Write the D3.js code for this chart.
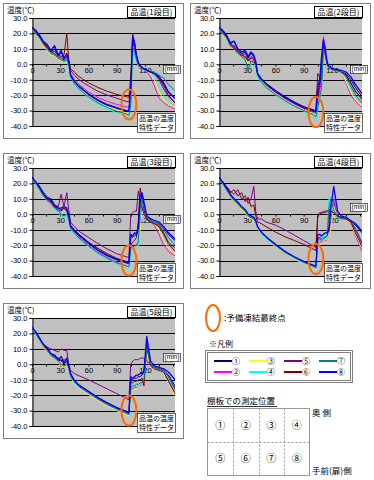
<!DOCTYPE html>
<html>
<head>
<meta charset="utf-8">
<script src="https://cdn.jsdelivr.net/npm/d3@7"></script>
<style>
  body { margin: 0; background: #fff; }
  svg { display: block; }
  text { font-family: 'Liberation Sans', Arial, sans-serif; fill: #000; }
  .jp { font-family: 'Noto Sans CJK JP', sans-serif; }
</style>
</head>
<body>
<svg id="chart" width="374" height="480"></svg>
<script>
// time axis shared by every series (min)
var minutes = [0, 4, 8, 12, 16, 20, 24, 28, 31, 34, 37, 39, 41, 45, 50, 60, 70, 80, 90, 100,
  103, 105, 107, 109, 111, 113, 115, 117, 119, 122, 126, 130, 135, 140, 145, 152];

var seriesLabels = ['①', '②', '③', '④', '⑤', '⑥', '⑦', '⑧'];
var seriesColors = ['#000080', '#ff00ff', '#ffff00', '#00ffff', '#800080', '#800000', '#008080', '#0000ff'];

var yTicks = [30, 20, 10, 0, -10, -20, -30, -40];
var xTicks = [0, 30, 60, 90, 120];
var xMinorTicks = [15, 45, 75, 105, 135, 150];

var tierTitles = ['品温(1段目)', '品温(2段目)', '品温(3段目)', '品温(4段目)', '品温(5段目)'];
// where the orange ring sits (temp at ~103 min) and where the (min) tag sits
var ringTemp = [-26, -31, -30, -29, -30];
var minTagTemp = [-3, -3, -3, 5, 5];

// product temperature, 1st shelf: series ①..⑧
var tier1 = [
  [23, 21, 18, 14, 12, 8, 10, 5, 8, 3, 5, 1, -7, -11, -14, -19, -23, -26, -28, -30, -30.5, -18, 15, 10, 4, 0, -2, -3, -3.5, -4, -5, -6, -8, -13, -18, -22],
  [23, 20, 17, 13, 10, 7, 6, 4, 3, 2, 3, 0, -6, -10, -13, -18, -21.5, -24, -26, -27.5, -28, -20, 16, 12, 5, 0, -2, -3, -3.5, -5, -8, -14, -22, -25, -27, -29],
  [23, 20, 16, 12, 9, 6, 5, 3, 2, 1, 2, -1, -8, -12, -15.5, -20.5, -24.5, -27.5, -29.5, -31.5, -32, -25, 12, 8, 3, -1, -2, -3, -3.5, -4.5, -6, -10, -18, -23, -26, -28],
  [23, 20, 17, 13, 10, 7, 6, 3, 3, 1, 3, -1, -8.5, -13, -16.5, -21.5, -25.5, -29, -31.5, -33, -34, -27, 10, 6, 2, -1, -2, -3, -3.5, -4, -5, -8, -14, -20, -24, -27],
  [23, 21, 18, 14, 11, 8, 7, 5, 4, 3, 5, 2, -4, -7, -10, -14, -17.5, -20, -22, -24, -24.5, -15, 17, 12, 5, 1, -1, -2, -3, -4, -5, -6, -10, -16, -21, -25],
  [23, 21, 18, 14, 11, 9, 8, 6, 5, 6, 20, 3, -3, -5, -8, -12, -15, -17.5, -19.5, -21, -21.5, -8, 20, 14, 6, 1, -1, -2, -3, -4, -5, -6, -9, -14, -20, -25],
  [23, 20, 17, 13, 10, 7, 6, 4, 3, 2, 3, 0, -8, -12.5, -16, -21, -25, -28, -30.5, -32, -33, -26, 11, 8, 3, -1, -2, -3, -3, -3.5, -4.5, -5, -7, -9, -13, -17],
  [24, 22, 19, 15, 13, 9, 12, 6, 9, 4, 7, 2, -7, -11, -14.5, -19.5, -23.5, -26.5, -28.5, -30, -30.5, -15, 18, 14, 6, 1, -1, -2, -3, -4, -5, -6, -8, -12, -18, -22]
];

var tier2 = [
  [23, 21, 18, 13, 15, 9, 7, 8, 4, 7, 5, 1, -6, -10, -13, -18, -22, -25.5, -28.5, -30.5, -31, -22, -15, -5, 15, 8, 0, -2, -3, -3.5, -4, -5, -6, -10, -15, -21],
  [23, 20, 17, 12, 11, 8, 6, 4, 3, 2, 2, -1, -7, -10.5, -14, -18.5, -22.5, -26, -29, -31, -32, -25, -18, -10, 18, 10, 0, -2, -3, -3.5, -4, -6, -12, -20, -24, -28],
  [23, 20, 16, 12, 10, 7, 5, 3, 1, 0, 1, -2, -8, -11, -14.5, -19, -23, -26.5, -29.5, -32, -33, -27, -22, -15, 12, 8, -1, -2, -3, -3.5, -4, -6, -11, -18, -23, -27],
  [23, 20, 17, 12, 10, 7, 5, 2, -3, 1, 1, -2, -8, -12, -15.5, -20, -24, -27.5, -30.5, -33, -35, -30, -24, -18, 10, 6, -1, -2, -3, -3.5, -4, -5, -9, -16, -22, -26],
  [23, 21, 18, 13, 12, 8, 6, 7, 3, 5, 4, 0, -6, -9.5, -13, -17.5, -21.5, -25, -28, -30, -31, -20, -12, 0, 14, 8, 0, -2, -3, -3.5, -4, -5, -7, -12, -18, -22],
  [23, 21, 18, 13, 11, 8, 6, 5, 2, 4, 3, 0, -6, -9.5, -13, -17.5, -21.5, -25, -28, -30, -30, -6, -8, -10, 12, 6, 0, -2, -3, -3.5, -4, -5, -7, -12, -17, -23],
  [23, 20, 17, 12, 10, 7, 5, 3, -4, 2, 1, -1, -7, -11.5, -15, -19.5, -23.5, -27, -30, -32.5, -34, -28, -22, -15, 10, 7, -1, -2, -3, -3.5, -4, -5, -8, -14, -20, -25],
  [24, 22, 19, 14, 15, 10, 8, 9, 5, 8, 6, 2, -6, -9.5, -12.5, -17, -21, -24.5, -27.5, -29.5, -30.5, -15, -10, 5, 16, 10, 1, -1, -2, -3, -3.5, -4, -5, -8, -13, -19]
];

var tier3 = [
  [23, 20, 17, 13, 10, 9, 5, 3, 2, 4, 2, -2, -8, -11, -14, -19, -23.5, -27, -29.5, -31.5, -32, -14, -15, -14, -13, -10, 8, 12, 6, -2, -4, -5, -6, -9, -13, -17],
  [23, 20, 16, 12, 9, 7, 4, 2, 0, -1, 0, -3, -9, -12, -15, -20, -24.5, -28, -31, -33.5, -34.5, -22, -21, -21, -20, -18, -5, 5, 2, -3, -5, -7, -13, -20, -24, -27],
  [23, 20, 16, 12, 9, 7, 4, 2, 0, -1, 0, -3, -9, -12, -15.5, -20.5, -25, -28.5, -31.5, -34, -35, -23, -22, -22, -21, -20, -10, 2, 0, -3, -5, -6, -10, -17, -22, -26],
  [23, 20, 16, 12, 9, 7, 4, 1, -1, -2, -1, -4, -10, -12.5, -16, -21, -25.5, -29, -32, -34.5, -35.5, -24, -23, -22, -22, -20, 0, 8, 3, -2, -4, -5, -8, -14, -20, -24],
  [23, 21, 17, 13, 11, 8, 6, 5, 13, 5, 14, 3, -5, -8, -11, -15, -19, -22.5, -25.5, -27.5, -28, 0, 1, 2, 2, 15, 8, 4, 0, -3, -5, -6, -7, -12, -18, -22],
  [23, 21, 17, 13, 10, 8, 5, 4, 3, 4, 3, 0, -7, -10, -13, -18, -22, -25.5, -28.5, -30.5, -31, -20, -18, -17, -15, -5, 17, 10, 3, -3, -5, -6, -8, -13, -19, -24],
  [23, 20, 16, 12, 9, 7, 4, 2, 0, -1, 0, -3, -9, -12, -15.5, -20.5, -25, -28.5, -31.5, -33.5, -34, -22, -21, -20, -20, -18, 5, 10, 5, -2, -4, -5, -6, -10, -15, -20],
  [24, 21, 18, 14, 11, 10, 6, 4, 4, 5, 4, -1, -8, -10.5, -13.5, -18.5, -23, -26.5, -29, -31, -31.5, -13, -14, -12, -13, -8, 12, 14, 8, -1, -3, -4, -5, -8, -12, -16]
];

var tier4 = [
  [23, 20, 16, 12, 9, 7, 4, 2, -1, -2, -3, -5, -8, -12, -15, -20, -24.5, -28, -31, -33.5, -34, -16, -15, -16, -15, -15, -14, -8, 10, 8, -1, -2, -3, -5, -7, -12],
  [23, 20, 16, 11, 8, 6, 3, 1, -2, -3, -4, -6, -9, -12.5, -16, -21, -25.5, -29, -32, -34.5, -35.5, -19, -18, -18, -18, -17, -17, -16, -5, 10, -2, -3, -4, -6, -14, -24],
  [23, 20, 16, 11, 8, 6, 3, 1, -2, -3, -4, -6, -9, -12.5, -16, -21, -25.5, -29, -32, -35, -36, -20, -19, -19, -18, -18, -17, -16, -8, 5, -2, -3, -4, -6, -13, -22],
  [23, 20, 16, 12, 9, 6, 4, 2, -1, -2, -3, -5, -9, -12, -15.5, -20.5, -25, -28.5, -31.5, -34, -35, -18, -17, -16, -15, -14, -12, 12, 6, 2, -2, -3, -3, -5, -11, -20],
  [23, 21, 18, 15, 13, 16, 10, 12, 7, 10, 18, 2, -3, -3, -5, -7, -10, -13.5, -17, -20.5, -21.5, 0, 1, 1, 2, 2, 2, 3, 2, 1, -1, -2, -3, -4, -10, -19],
  [23, 21, 18, 14, 16, 12, 14, 8, 11, 5, 6, -1, -5, -6, -8, -11.5, -14.5, -17, -19.5, -22.5, -23.5, -1, 0, 1, 1, 1, 2, 2, 2, 1, -1, -2, -3, -5, -12, -21],
  [23, 20, 16, 12, 9, 7, 4, 2, -1, -2, -3, -5, -8, -12, -15, -20, -24.5, -28, -31, -33.5, -34.5, -17, -16, -17, -16, -15, -14, 5, 10, 3, -2, -3, -3, -4, -9, -18],
  [24, 21, 17, 13, 10, 8, 5, 3, 0, -1, -2, -4, -8, -11.5, -14.5, -19.5, -24, -27.5, -30.5, -33, -33.5, -13, -13, -14, -13, -12, -12, -10, 5, 18, 2, -1, -2, -4, -6, -11]
];

var tier5 = [
  [23, 20, 16, 12, 10, 6, 5, 2, 3, 0, 2, -2, -6, -11, -14, -18, -22, -25.5, -28.5, -31, -32, -10, -10, -9, -9, -8, -8, -7, -5, 14, 0, -2, -3, -4, -7, -14],
  [23, 20, 16, 11, 8, 5, 3, 1, -1, -2, -1, -3, -8, -12, -15, -19, -23, -26.5, -29.5, -32, -33, -16, -16, -15, -15, -15, -14, -14, -12, 10, -1, -2, -3, -5, -10, -18],
  [23, 20, 16, 11, 8, 5, 3, 1, -1, -2, -1, -3, -8, -12.5, -15.5, -19.5, -23.5, -27, -30, -32.5, -33.5, -17, -17, -16, -16, -15, -15, -14, -13, 8, -1, -3, -4, -5, -12, -20],
  [23, 20, 16, 12, 9, 6, 4, 2, 0, -1, 0, -2, -8, -11.5, -14.5, -18.5, -22.5, -26, -29, -31.5, -32.5, -15, -15, -14, -14, -13, -13, -12, -10, 12, 0, -2, -3, -4, -9, -17],
  [23, 21, 17, 13, 11, 10, 9, 8, 10, 9, 9, 0, -4, -6, -7.5, -10, -13, -16, -19, -22, -23, 0, 2, 3, 3, 3, 4, 4, 4, 2, 0, -2, -3, -4, -8, -16],
  [23, 21, 17, 13, 10, 7, 5, 4, 2, 3, 2, -1, -6, -10.5, -13.5, -17.5, -21.5, -25, -28, -30.5, -31.5, -12, -12, -11, -11, -10, -10, -9, -14, 12, -1, -3, -4, -5, -11, -19],
  [23, 20, 16, 12, 9, 6, 4, 2, 0, -1, 0, -2, -8, -11.5, -14.5, -18.5, -22.5, -26, -29, -31.5, -32.5, -15, -14, -14, -13, -13, -12, -12, -10, 11, 0, -2, -3, -4, -8, -15],
  [24, 21, 17, 13, 11, 7, 6, 3, 5, 1, 4, -1, -6, -10.5, -13.5, -17.5, -21.5, -25, -28, -30.5, -31.5, -8, -9, -8, -7, -7, -6, -6, -4, 18, 2, -1, -2, -3, -5, -10]
];

var tiers = [tier1, tier2, tier3, tier4, tier5];
var shelfSpots = ['①', '②', '③', '④', '⑤', '⑥', '⑦', '⑧'];

var panelPos = [[3, 3], [190, 3], [3, 153], [190, 153], [3, 303]],
  panelW = 180,
  panelH = 135,
  plot = { left: 29, right: 172, top: 15, bottom: 123 };

var svg = d3.select('#chart');

var x = d3.scaleLinear().domain([0, 152]).range([plot.left, plot.right]);
var y = d3.scaleLinear().domain([-40, 30]).range([plot.bottom, plot.top]);

var line = d3
  .line()
  .x(function(d, i) {
    return x(minutes[i]);
  })
  .y(function(d) {
    return y(d);
  });

function crisp(v) {
  return Math.round(v) + 0.5;
}

tiers.forEach(function(tier, p) {
  var g = svg
    .append('g')
    .attr('transform', 'translate(' + panelPos[p][0] + ',' + panelPos[p][1] + ')');

  g.append('rect')
    .attr('x', 0.5)
    .attr('y', 0.5)
    .attr('width', panelW)
    .attr('height', panelH)
    .attr('fill', '#fff')
    .attr('stroke', '#7f7f7f');

  g.append('clipPath')
    .attr('id', 'clip' + p)
    .append('rect')
    .attr('x', plot.left)
    .attr('y', plot.top)
    .attr('width', plot.right - plot.left)
    .attr('height', plot.bottom - plot.top);

  g.append('rect')
    .attr('x', plot.left)
    .attr('y', plot.top)
    .attr('width', plot.right - plot.left)
    .attr('height', plot.bottom - plot.top)
    .attr('fill', '#c0c0c0');

  // horizontal grid lines
  g.selectAll('.grid')
    .data(yTicks)
    .enter()
    .append('line')
    .attr('x1', plot.left)
    .attr('x2', plot.right)
    .attr('y1', function(d) {
      return crisp(y(d));
    })
    .attr('y2', function(d) {
      return crisp(y(d));
    })
    .attr('stroke', '#000')
    .attr('stroke-width', 1);

  var yAxis = g
    .append('g')
    .attr('transform', 'translate(' + (plot.left + 0.5) + ',0)')
    .call(
      d3
        .axisLeft(y)
        .tickValues(yTicks)
        .tickSize(3)
        .tickPadding(2)
        .tickFormat(function(d) {
          return d.toFixed(1);
        })
    );
  yAxis.attr('font-size', 7.5).attr('font-family', null);
  yAxis.select('.domain').attr('stroke', '#000');

  var xAxis = g
    .append('g')
    .attr('transform', 'translate(0,' + crisp(y(0)) + ')')
    .call(
      d3
        .axisBottom(x)
        .tickValues(xTicks)
        .tickSize(2)
        .tickPadding(1)
    );
  xAxis.attr('font-size', 7.5).attr('font-family', null);
  xAxis.select('.domain').remove();

  // small tick marks between the labelled ones
  g.selectAll('.minor')
    .data(xMinorTicks)
    .enter()
    .append('line')
    .attr('x1', function(d) {
      return crisp(x(d));
    })
    .attr('x2', function(d) {
      return crisp(x(d));
    })
    .attr('y1', crisp(y(0)))
    .attr('y2', crisp(y(0)) + 2)
    .attr('stroke', '#000');

  // series
  g.append('g')
    .attr('clip-path', 'url(#clip' + p + ')')
    .selectAll('path')
    .data(tier)
    .enter()
    .append('path')
    .attr('d', line)
    .attr('fill', 'none')
    .attr('stroke', function(d, i) {
      return seriesColors[i];
    })
    .attr('stroke-width', function(d, i) {
      return i === 7 ? 1.3 : 1;
    })
    .attr('stroke-linejoin', 'round');

  // axis caption
  g.append('text')
    .attr('class', 'jp')
    .attr('x', 4)
    .attr('y', 10)
    .attr('font-size', 7.5)
    .text('温度(℃)');

  // title box
  g.append('rect')
    .attr('x', 124.5)
    .attr('y', 3.5)
    .attr('width', 48)
    .attr('height', 11)
    .attr('fill', '#fff')
    .attr('stroke', '#000');
  g.append('text')
    .attr('class', 'jp')
    .attr('x', 148.5)
    .attr('y', 12)
    .attr('text-anchor', 'middle')
    .attr('font-size', 8)
    .text(tierTitles[p]);

  // (min) tag
  var my = y(minTagTemp[p]);
  g.append('rect')
    .attr('x', 160.5)
    .attr('y', Math.round(my - 4) + 0.5)
    .attr('width', 17)
    .attr('height', 8)
    .attr('fill', '#fff')
    .attr('stroke', '#000')
    .attr('stroke-width', 0.6);
  g.append('text')
    .attr('x', 169)
    .attr('y', my + 2.5)
    .attr('text-anchor', 'middle')
    .attr('font-size', 6.5)
    .text('(min)');

  // orange ring at the end of pre-freezing
  g.append('ellipse')
    .attr('cx', x(103))
    .attr('cy', y(ringTemp[p]))
    .attr('rx', 7.5)
    .attr('ry', 15)
    .attr('fill', 'none')
    .attr('stroke', '#ff6a00')
    .attr('stroke-width', 2);

  // note box
  g.append('rect')
    .attr('x', 134.5)
    .attr('y', 110.5)
    .attr('width', 38)
    .attr('height', 19)
    .attr('fill', '#fff')
    .attr('stroke', '#000')
    .attr('stroke-width', 0.6);
  g.append('text')
    .attr('class', 'jp')
    .attr('x', 153.5)
    .attr('y', 118)
    .attr('text-anchor', 'middle')
    .attr('font-size', 7)
    .text('品温の温度');
  g.append('text')
    .attr('class', 'jp')
    .attr('x', 153.5)
    .attr('y', 127)
    .attr('text-anchor', 'middle')
    .attr('font-size', 7)
    .text('特性データ');
});

// ---- key area (bottom right) ----
var key = svg.append('g');

key.append('ellipse')
  .attr('cx', 213)
  .attr('cy', 318)
  .attr('rx', 7)
  .attr('ry', 13)
  .attr('fill', 'none')
  .attr('stroke', '#ff6a00')
  .attr('stroke-width', 2);
key.append('text')
  .attr('class', 'jp')
  .attr('x', 224)
  .attr('y', 321)
  .attr('font-size', 8.5)
  .text(':予備凍結最終点');

key.append('text')
  .attr('class', 'jp')
  .attr('x', 209)
  .attr('y', 347)
  .attr('font-size', 8)
  .text('※凡例');

key.append('rect')
  .attr('x', 205.5)
  .attr('y', 350.5)
  .attr('width', 147)
  .attr('height', 32)
  .attr('fill', '#fff')
  .attr('stroke', '#7f7f7f');
key.append('rect')
  .attr('x', 207.5)
  .attr('y', 352.5)
  .attr('width', 143)
  .attr('height', 28)
  .attr('fill', 'none')
  .attr('stroke', '#7f7f7f');

var legendItem = key
  .selectAll('.legend')
  .data(seriesLabels)
  .enter()
  .append('g')
  .attr('transform', function(d, i) {
    return 'translate(' + (214 + Math.floor(i / 2) * 35) + ',' + (361 + (i % 2) * 11) + ')';
  });
legendItem
  .append('line')
  .attr('x1', 0)
  .attr('x2', 18)
  .attr('stroke', function(d, i) {
    return seriesColors[i];
  })
  .attr('stroke-width', 2);
legendItem
  .append('text')
  .attr('class', 'jp')
  .attr('x', 18)
  .attr('y', 3)
  .attr('font-size', 8)
  .attr('fill', '#333')
  .text(function(d) {
    return d;
  });

// measurement positions on the shelf
key.append('text')
  .attr('class', 'jp')
  .attr('x', 207)
  .attr('y', 404)
  .attr('font-size', 8.5)
  .text('棚板での測定位置');
key.append('line')
  .attr('x1', 207)
  .attr('x2', 277)
  .attr('y1', 406.5)
  .attr('y2', 406.5)
  .attr('stroke', '#000')
  .attr('stroke-width', 0.8);

var cellW = 25.5,
  cellH = 33.5,
  gridX = 207.5,
  gridY = 408.5;

key.append('rect')
  .attr('x', gridX)
  .attr('y', gridY)
  .attr('width', cellW * 4)
  .attr('height', cellH * 2)
  .attr('fill', '#fff')
  .attr('stroke', '#999');
[1, 2, 3].forEach(function(c) {
  key.append('line')
    .attr('x1', Math.round(gridX + c * cellW) + 0.5)
    .attr('x2', Math.round(gridX + c * cellW) + 0.5)
    .attr('y1', gridY)
    .attr('y2', gridY + cellH * 2)
    .attr('stroke', '#999')
    .attr('stroke-dasharray', '2,2');
});
key.append('line')
  .attr('x1', gridX)
  .attr('x2', gridX + cellW * 4)
  .attr('y1', Math.round(gridY + cellH) + 0.5)
  .attr('y2', Math.round(gridY + cellH) + 0.5)
  .attr('stroke', '#999')
  .attr('stroke-dasharray', '2,2');

key.selectAll('.spot')
  .data(shelfSpots)
  .enter()
  .append('text')
  .attr('class', 'jp')
  .attr('x', function(d, i) {
    return gridX + (i % 4 + 0.5) * cellW;
  })
  .attr('y', function(d, i) {
    return gridY + (Math.floor(i / 4) + 0.5) * cellH + 3.5;
  })
  .attr('text-anchor', 'middle')
  .attr('font-size', 10)
  .attr('fill', '#333')
  .text(function(d) {
    return d;
  });

key.append('text')
  .attr('class', 'jp')
  .attr('x', 312)
  .attr('y', 416)
  .attr('font-size', 8.5)
  .text('奥 側');
key.append('text')
  .attr('class', 'jp')
  .attr('x', 312)
  .attr('y', 474)
  .attr('font-size', 8.5)
  .text('手前(扉)側');
</script>
</body>
</html>
